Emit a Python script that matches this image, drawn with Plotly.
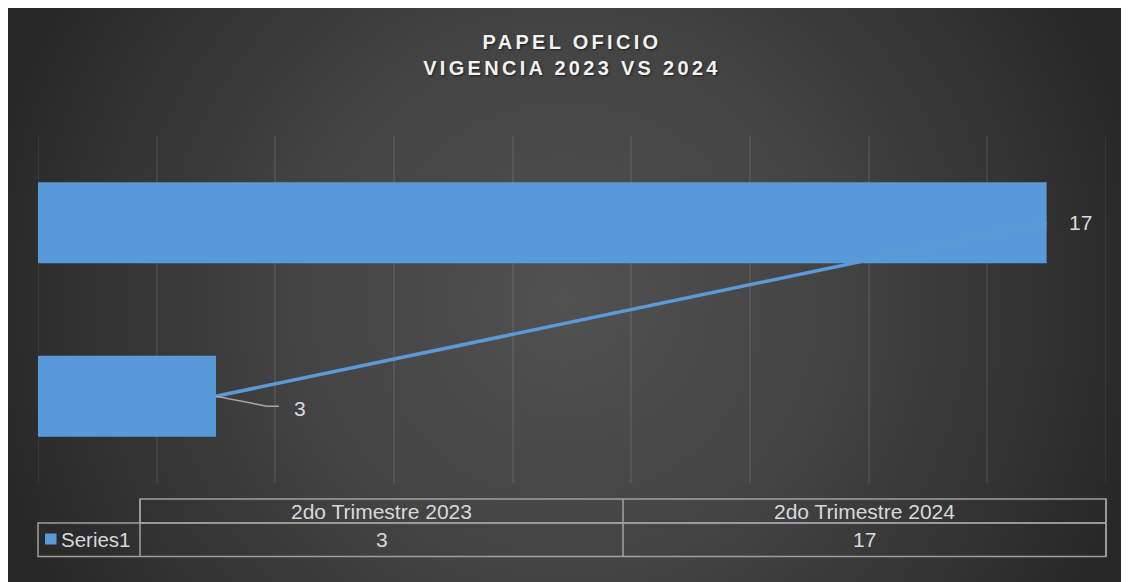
import base64
import plotly.graph_objects as go

# ---------------- data ----------------
categories = ["2do Trimestre 2023", "2do Trimestre 2024"]
values = [3, 17]
series_name = "Series1"
title_lines = ["PAPEL OFICIO", "VIGENCIA 2023 VS 2024"]
x_max = 18
x_step = 2

# ---------------- layout geometry (figure pixels; page has an 8px body margin) ----------------
OFF = 8
W, H = 1129 - OFF, 582 - OFF
L, R, T, B = 38 - OFF, 1106 - OFF, 136 - OFF, 483 - OFF
PW, PH = R - L, B - T


def px(xp):
    """page x pixel -> paper fraction"""
    return (xp - OFF - L) / PW


def py(yp):
    """page y pixel -> paper fraction"""
    return (B - (yp - OFF)) / PH


BAR_COLOR = "#589ad9"
LINE_COLOR = "#5b9bd5"
TEXT_COLOR = "#d9d9d9"
BORDER = "#a0a0a0"
GRID = "rgba(255,255,255,0.08)"
FONT = "Liberation Sans, Arial, sans-serif"
FS = 21

fig = go.Figure()

fig.add_trace(go.Bar(
    x=values, y=categories, orientation="h",
    marker=dict(color=BAR_COLOR, line=dict(width=0)),
    width=0.466, name=series_name, hoverinfo="x+y",
))
fig.add_trace(go.Scatter(
    x=values, y=categories, mode="lines",
    line=dict(color=LINE_COLOR, width=3.5), hoverinfo="skip", showlegend=False,
))

# background (radial gradient) as SVG image covering the whole figure
svg = (
    f"<svg xmlns='http://www.w3.org/2000/svg' width='{W}' height='{H}' viewBox='0 0 {W} {H}' preserveAspectRatio='none'>"
    f"<defs><radialGradient id='g' gradientUnits='userSpaceOnUse' cx='{565-OFF}' cy='{300-OFF}' r='610'>"
    "<stop offset='0' stop-color='#515151'/><stop offset='0.45' stop-color='#434343'/>"
    "<stop offset='1' stop-color='#262626'/></radialGradient></defs>"
    f"<rect width='{W}' height='{H}' fill='url(#g)'/></svg>"
)
src = "data:image/svg+xml;base64," + base64.b64encode(svg.encode()).decode()

annotations = []
shapes = []

# edge gridlines (0 and max) which plotly omits at the range ends
for xv in (0, x_max):
    shapes.append(dict(type="line", xref="x", yref="paper", x0=xv, x1=xv, y0=0, y1=1,
                       line=dict(color=GRID, width=1.5), layer="below"))

# data labels with leader lines
label_offsets = {0: (84, -12), 1: (34, 0)}
for i, (c, v) in enumerate(zip(categories, values)):
    dx, dy = label_offsets[i]
    annotations.append(dict(
        x=v, y=c, xref="x", yref="y", text=str(v), showarrow=False,
        xshift=dx, yshift=dy, font=dict(family=FONT, size=FS, color=TEXT_COLOR),
    ))
shapes.append(dict(
    type="path", xref="x", yref="y", xsizemode="pixel", ysizemode="pixel",
    xanchor=values[0], yanchor=categories[0],
    path="M0,0 L51,-10 L63,-10", line=dict(color="#a6a6a6", width=1.5),
))

# data table
col_left = 140
n = len(categories)
col_w = (1106 - col_left) / n
hdr_top, hdr_bot, val_bot = 499, 523, 556.5
shapes.append(dict(type="rect", xref="paper", yref="paper",
                   x0=px(col_left), x1=px(1106), y0=py(hdr_bot), y1=py(hdr_top),
                   line=dict(color=BORDER, width=1.5)))
shapes.append(dict(type="rect", xref="paper", yref="paper",
                   x0=px(38), x1=px(1106), y0=py(val_bot), y1=py(hdr_bot),
                   line=dict(color=BORDER, width=1.5)))
for k in range(n + 1):
    xb = col_left + k * col_w
    shapes.append(dict(type="line", xref="paper", yref="paper",
                       x0=px(xb), x1=px(xb), y0=py(val_bot), y1=py(hdr_top),
                       line=dict(color=BORDER, width=1.5)))
for k, (c, v) in enumerate(zip(categories, values)):
    xc = col_left + (k + 0.5) * col_w
    annotations.append(dict(x=px(xc), y=py((hdr_top + hdr_bot) / 2), xref="paper", yref="paper",
                            text=c, showarrow=False, xanchor="center", yanchor="middle",
                            font=dict(family=FONT, size=FS, color=TEXT_COLOR)))
    annotations.append(dict(x=px(xc), y=py((hdr_bot + val_bot) / 2), xref="paper", yref="paper",
                            text=str(v), showarrow=False, xanchor="center", yanchor="middle",
                            font=dict(family=FONT, size=FS, color=TEXT_COLOR)))
# legend key + series name
shapes.append(dict(type="rect", xref="paper", yref="paper",
                   x0=px(45), x1=px(56.5), y0=py(544.5), y1=py(533.5),
                   fillcolor=LINE_COLOR, line=dict(width=0)))
annotations.append(dict(x=px(59), y=py((hdr_bot + val_bot) / 2), xref="paper", yref="paper",
                        text=series_name, showarrow=False, xanchor="left", yanchor="middle",
                        font=dict(family=FONT, size=20.5, color=TEXT_COLOR)))

fig.update_layout(
    width=W, height=H,
    margin=dict(l=L, r=W - R, t=T, b=H - B, pad=0),
    paper_bgcolor="#333333", plot_bgcolor="rgba(0,0,0,0)",
    showlegend=False,
    images=[dict(source=src, xref="paper", yref="paper", x=px(OFF), y=py(OFF),
                 sizex=W / PW, sizey=H / PH, xanchor="left", yanchor="top",
                 sizing="stretch", layer="below")],
    title=dict(
        text="<br>".join(title_lines), x=0.5, xref="paper", xanchor="center",
        y=1 - 41 / H, yref="container", yanchor="top",
        font=dict(family=FONT, size=20, color="#f2f2f2", weight="bold",
                  shadow="1px 1px 2px rgba(0,0,0,0.6)"),
    ),
    xaxis=dict(range=[0, x_max], dtick=x_step, tick0=0, showgrid=True,
               gridcolor=GRID, gridwidth=1.5,
               showticklabels=False, zeroline=False, showline=False, ticks=""),
    yaxis=dict(type="category", categoryorder="array", categoryarray=categories,
               range=[-0.5, 1.5], showgrid=False, showticklabels=False,
               zeroline=False, showline=False, ticks=""),
    annotations=annotations, shapes=shapes,
)

post = (
    "var gd=document.getElementById('{plot_id}');"
    "function ls(){gd.querySelectorAll('.gtitle').forEach(function(e){e.style.letterSpacing='3.3px';});}"
    "ls(); gd.on('plotly_afterplot', ls);"
)
fig.write_html("out.html", post_script=post)
